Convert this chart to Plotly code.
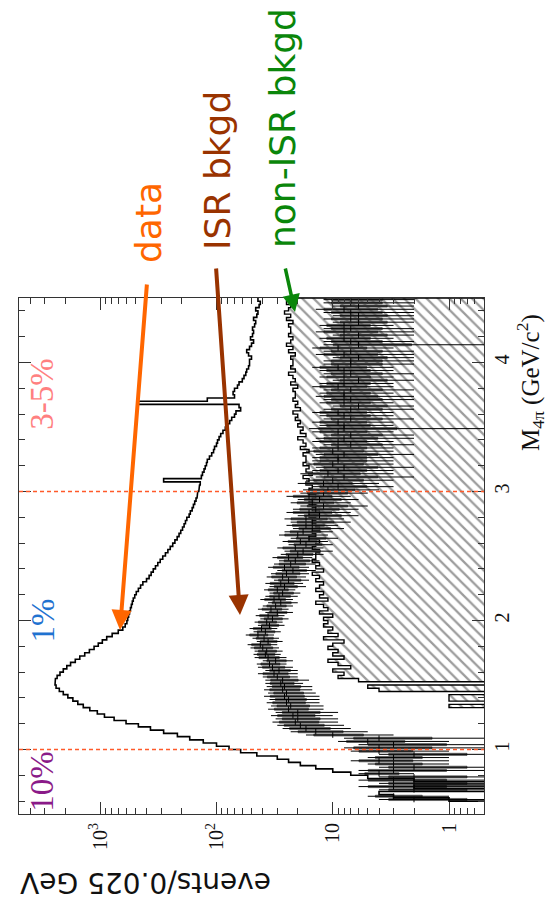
import numpy as np
import plotly.graph_objects as go

# Binning of the 4pi invariant mass spectrum (GeV/c^2)
mass_lo, mass_hi, bin_w = 0.5, 4.5, 0.025

# Events per 0.025 GeV bin, data (rows of 10 bins = 0.25 GeV)
data_counts = [
    0, 0, 0, 0, 1, 3, 4, 0, 2, 0,
    2, 5, 7, 10, 14, 19, 24, 30, 45, 62,
    78, 100, 130, 170, 217, 285, 370, 470, 600, 760,
    920, 1060, 1230, 1400, 1560, 1720, 1900, 2080, 2250, 2400,
    2450, 2430, 2350, 2220, 2080, 1940, 1800, 1640, 1500, 1360,
    1240, 1130, 1040, 960, 880, 790, 700, 640, 610, 590,
    580, 570, 560, 550, 540, 530, 520, 505, 490, 470,
    450, 430, 400, 380, 365, 350, 335, 320, 305, 290,
    275, 262, 250, 238, 228, 218, 210, 203, 196, 190,
    185, 180, 172, 168, 162, 158, 154, 150, 147, 145,
    142, 140, 138, 285, 135, 132, 128, 125, 122, 120,
    115, 110, 106, 104, 100, 98, 95, 92, 88, 84,
    80, 77, 74, 70, 68, 62, 64, 470, 120, 70,
    72, 70, 66, 64, 60, 58, 56, 55, 53, 52,
    52, 50, 53, 55, 52, 50, 48, 51, 49, 48,
    49, 47, 46, 48, 45, 44, 46, 43, 42, 44,
]

# ISR background estimate and its uncertainty
isr_bkgd = [
    0, 0, 0, 0, 2, 3, 0, 2, 3, 2,
    3, 2, 4, 3, 2, 3, 4, 3, 2, 4,
    4, 3, 5, 4, 10, 14, 17, 19, 21, 20,
    22, 20, 24, 23, 25, 24, 26, 25, 27, 26,
    28, 27, 30, 32, 29, 33, 35, 31, 36, 38,
    37, 40, 42, 36, 39, 44, 38, 41, 35, 37,
    33, 36, 30, 34, 31, 28, 32, 29, 27, 30,
    26, 28, 24, 27, 25, 22, 26, 23, 21, 24,
    20, 18, 21, 17, 19, 16, 20, 18, 15, 17,
    15, 17, 13, 16, 14, 12, 15, 13, 16, 12,
    11, 9, 12, 10, 8, 11, 9, 8, 10, 9,
    9, 8, 10, 9, 7, 9, 8, 7, 9, 8,
    8, 9, 7, 8, 9, 7, 6, 8, 7, 8,
    8, 7, 9, 8, 6, 8, 7, 8, 9, 7,
    7, 6, 8, 7, 9, 6, 7, 8, 6, 8,
    7, 8, 6, 7, 6, 7, 8, 6, 7, 7,
]
isr_err = [
    0, 0, 0, 0, 2, 2, 0, 2, 3, 2,
    3, 2, 2, 3, 2, 2, 3, 2, 2, 3,
    4, 3, 4, 4, 7, 9, 10, 11, 12, 11,
    12, 11, 12, 11, 12, 11, 13, 11, 12, 11,
    10, 11, 10, 12, 9, 11, 10, 9, 11, 10,
    10, 11, 12, 9, 10, 12, 10, 11, 9, 10,
    9, 10, 8, 10, 9, 8, 10, 9, 8, 9,
    9, 10, 8, 10, 9, 8, 10, 9, 8, 9,
    8, 8, 9, 7, 8, 7, 9, 8, 7, 8,
    8, 9, 7, 9, 8, 7, 8, 7, 9, 7,
    7, 6, 8, 7, 6, 8, 6, 6, 7, 6,
    6, 6, 7, 6, 5, 6, 6, 5, 6, 8,
    5, 6, 5, 5, 6, 5, 4, 5, 5, 6,
    5, 5, 6, 5, 4, 5, 5, 5, 6, 5,
    5, 4, 6, 5, 6, 6, 5, 5, 4, 6,
    5, 5, 4, 5, 4, 5, 6, 4, 5, 5,
]

# Non-ISR (continuum) background
nonisr_bkgd = [
    0, 0, 0, 0, 0, 0, 0, 0, 0, 0,
    0, 0, 0, 0, 0, 0, 0, 0, 0, 0,
    0, 0, 0, 0, 0, 0, 0, 0, 0, 0,
    0, 0, 0, 1, 0, 1, 1, 0, 4, 5,
    0, 6, 9, 8, 10, 7, 9, 11, 8, 10,
    9, 11, 10, 8, 12, 9, 11, 10, 12, 11,
    12, 10, 13, 11, 12, 14, 11, 13, 12, 14,
    13, 12, 14, 13, 15, 12, 14, 13, 15, 14,
    14, 13, 15, 14, 13, 16, 14, 15, 13, 14,
    15, 14, 16, 13, 15, 14, 16, 15, 14, 16,
    16, 15, 17, 16, 18, 15, 17, 16, 18, 17,
    17, 18, 16, 19, 17, 18, 20, 17, 19, 18,
    20, 19, 21, 20, 22, 19, 21, 20, 22, 21,
    21, 22, 20, 23, 21, 22, 24, 21, 23, 22,
    22, 23, 21, 24, 22, 25, 23, 22, 24, 23,
    23, 24, 22, 25, 23, 26, 24, 23, 25, 24,
]

region_edges = [1.0, 3.0]
region_labels = ["10%", "1%", "3-5%"]
region_centers = [0.75, 2.0, 3.75]
region_colors = ["#8a1a88", "#1f72d0", "#ff8080"]

count_ticks = [1, 10, 100, 1000]
count_ticktext = ["1", "10", "10<sup>2</sup>", "10<sup>3</sup>"]
mass_ticks = [1, 2, 3, 4]

COUNT_MIN, COUNT_MAX = 0.5, 5000.0
FLOOR = 0.2   # empty bins sit below the axis minimum and get clipped
BOX_FRAC = 0.65  # grey box covers this fraction of the error bar
BOX_H = 0.65     # box thickness as a fraction of the bin width

edges = mass_lo + bin_w * np.arange(len(data_counts) + 1)
centers = edges[:-1] + bin_w / 2


def step_path(vals):
    xs, ys = [], []
    for i, v in enumerate(vals):
        v = v if v > 0 else FLOOR
        xs += [v, v]
        ys += [edges[i], edges[i + 1]]
    return xs, ys


fig = go.Figure()

# non-ISR background: hatched histogram filled towards the low-count edge
hx, hy = step_path(nonisr_bkgd)
fig.add_trace(go.Scatter(
    x=[FLOOR] + hx + [FLOOR], y=[edges[0]] + hy + [edges[-1]],
    mode="lines", fill="toself",
    fillcolor="white",
    fillpattern=dict(shape="\\", fgcolor="#3a3a3a", bgcolor="white",
                     size=8, solidity=0.28),
    line=dict(color="black", width=1.4),
    hoverinfo="skip", showlegend=False,
))

# ISR background: grey error boxes
bx, by = [], []
for c, v, e in zip(centers, isr_bkgd, isr_err):
    if v <= 0:
        continue
    lo = max(v - BOX_FRAC * e, FLOOR)
    hi = v + BOX_FRAC * e
    y0, y1 = c - BOX_H * bin_w / 2, c + BOX_H * bin_w / 2
    bx += [lo, hi, hi, lo, lo, None]
    by += [y0, y0, y1, y1, y0, None]
fig.add_trace(go.Scatter(
    x=bx, y=by, mode="lines", fill="toself",
    fillcolor="#727272", line=dict(color="#2e2e2e", width=0.6),
    hoverinfo="skip", showlegend=False,
))

# ISR background: central values with error bars
sel = [i for i, v in enumerate(isr_bkgd) if v > 0]
px_v = [isr_bkgd[i] for i in sel]
px_e = [isr_err[i] for i in sel]
px_em = [min(isr_err[i], isr_bkgd[i] - 0.05) for i in sel]
fig.add_trace(go.Scatter(
    x=px_v, y=[centers[i] for i in sel], mode="markers",
    marker=dict(symbol="line-ns-open", size=4, color="black",
                line=dict(color="black", width=1)),
    error_x=dict(type="data", array=px_e, arrayminus=px_em,
                 color="black", thickness=1, width=0),
    hoverinfo="skip", showlegend=False,
))

# data histogram
dx, dy = step_path(data_counts)
fig.add_trace(go.Scatter(
    x=dx, y=dy, mode="lines",
    line=dict(color="black", width=1.6),
    hoverinfo="skip", showlegend=False,
))

# region boundaries
for m in region_edges:
    fig.add_shape(type="line", xref="paper", x0=0, x1=1, yref="y", y0=m, y1=m,
                  layer="above",
                  line=dict(color="#ff5a2a", width=1.3, dash="4px,3px"))

# plot-area geometry in pixels (for placing rotated labels)
W, H = 547, 911
L, R, T, B = 19, 63, 298, 97
pw, ph = W - L - R, H - T - B


def px(xp):
    return (xp - L) / pw


def py(yp):
    return (H - B - yp) / ph


annos = []
for lab, mc, col in zip(region_labels, region_centers, region_colors):
    annos.append(dict(text=lab, x=px(42), xref="paper", y=mc, yref="y",
                      showarrow=False, textangle=-90, xanchor="center",
                      yanchor="middle",
                      font=dict(family="Liberation Serif", size=33, color=col)))

# call-out labels and arrows
callouts = [
    ("data", "#ff6600", 148, 223, (120, 630), (147, 283), 4),
    ("ISR bkgd", "#993300", 217, 171, (240, 615), (216, 267), 4),
    ("non-ISR bkgd", "#0a860a", 282, 128, (295, 312), (285, 267), 3.5),
]
for txt, col, cx, cy, head, tail, lw in callouts:
    annos.append(dict(text=txt, x=px(cx), y=py(cy), xref="paper", yref="paper",
                      showarrow=False, textangle=-90, xanchor="center",
                      yanchor="middle",
                      font=dict(family="DejaVu Sans", size=36, color=col)))
    annos.append(dict(text="", x=px(head[0]), y=py(head[1]),
                      xref="paper", yref="paper", showarrow=True,
                      ax=tail[0] - head[0], ay=tail[1] - head[1],
                      arrowhead=2, arrowsize=1.0, arrowwidth=lw,
                      arrowcolor=col, standoff=0))

annos.append(dict(text="events/0.025 GeV", x=px(146), y=py(883),
                  xref="paper", yref="paper", showarrow=False, textangle=180,
                  xanchor="center", yanchor="middle",
                  font=dict(family="DejaVu Sans", size=28, color="#111111")))
annos.append(dict(text="M<sub>4π</sub> (GeV/c<sup>2</sup>)", x=px(530), y=py(383),
                  xref="paper", yref="paper", showarrow=False, textangle=-90,
                  xanchor="center", yanchor="middle",
                  font=dict(family="Liberation Serif", size=25, color="#111111")))

minor_counts = [m * 10 ** k for k in range(-1, 4) for m in range(2, 10)
                if COUNT_MIN <= m * 10 ** k <= COUNT_MAX]

fig.update_layout(
    width=W, height=H,
    margin=dict(l=L, r=R, t=T, b=B),
    paper_bgcolor="white", plot_bgcolor="white",
    showlegend=False,
    annotations=annos,
    xaxis=dict(
        type="log", range=[np.log10(COUNT_MAX), np.log10(COUNT_MIN)],
        tickvals=count_ticks, ticktext=count_ticktext, tickangle=-90,
        ticks="inside", ticklen=12, tickcolor="#333", tickwidth=1,
        minor=dict(tickvals=minor_counts, ticks="inside", ticklen=6,
                   tickcolor="#333", showgrid=False),
        mirror="allticks", showline=True, linecolor="#333", linewidth=1,
        showgrid=False, zeroline=False,
        tickfont=dict(family="Liberation Serif", size=20, color="#111"),
    ),
    yaxis=dict(
        range=[mass_lo, mass_hi], side="right",
        tickvals=mass_ticks, tickangle=-90,
        ticks="inside", ticklen=12, tickcolor="#333", tickwidth=1,
        minor=dict(dtick=0.2, ticks="inside", ticklen=6, tickcolor="#333",
                   showgrid=False),
        mirror="allticks", showline=True, linecolor="#333", linewidth=1,
        showgrid=False, zeroline=False,
        tickfont=dict(family="Liberation Serif", size=20, color="#111"),
    ),
)

fig.write_html("out.html")
